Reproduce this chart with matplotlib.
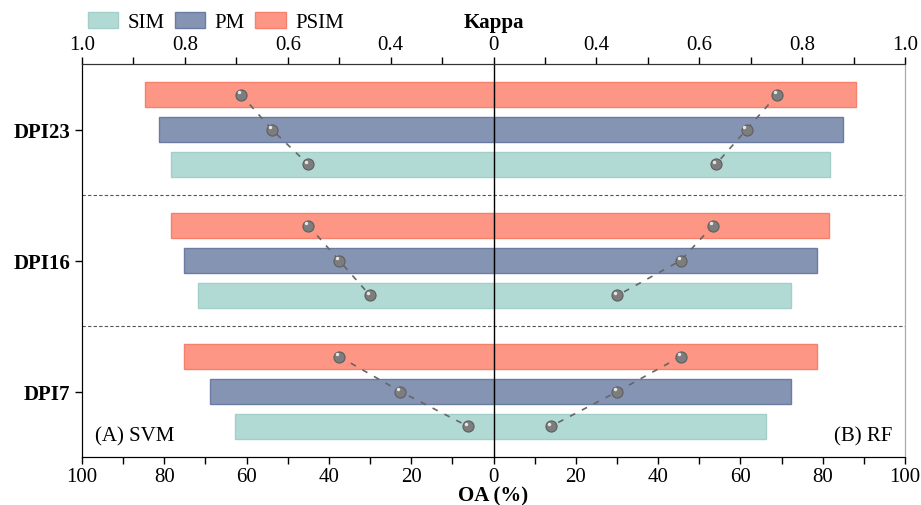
import numpy as np
import matplotlib.pyplot as plt
import matplotlib.transforms as mtransforms
from matplotlib.patches import Patch

plt.rcParams['font.family'] = ['Liberation Serif', 'DejaVu Serif']
plt.rcParams['font.size'] = 15

# Data
groups = ['DPI7', 'DPI16', 'DPI23']
methods = ['SIM', 'PM', 'PSIM']

# OA (%) per group (DPI7, DPI16, DPI23)
oa_svm = {'SIM': [62.7, 71.9, 78.4],
          'PM': [69.0, 75.1, 81.4],
          'PSIM': [75.3, 78.3, 84.6]}
oa_rf = {'SIM': [66.1, 72.4, 81.8],
         'PM': [72.4, 78.5, 84.9],
         'PSIM': [78.6, 81.6, 88.0]}

# Kappa per group (DPI7, DPI16, DPI23)
kappa_svm = {'SIM': [0.249, 0.440, 0.560],
             'PM': [0.381, 0.500, 0.631],
             'PSIM': [0.500, 0.560, 0.691]}
kappa_rf = {'SIM': [0.311, 0.441, 0.632],
            'PM': [0.441, 0.564, 0.692],
            'PSIM': [0.564, 0.627, 0.752]}

colors = {'SIM': '#b2dad4', 'PM': '#8694b4', 'PSIM': '#fd9684'}
edges = {'SIM': '#a2d0c9', 'PM': '#6b7ca3', 'PSIM': '#f7806d'}
offsets = {'SIM': -0.267, 'PM': 0.0, 'PSIM': 0.267}
bar_h = 0.19
kappa_base = 0.2  # centre of the Kappa axis is labelled 0

fig = plt.figure(figsize=(9.21, 5.06), dpi=100)
ax = fig.add_axes([82 / 921, 1 - 458 / 506, (905 - 82) / 921, (458 - 65) / 506])

y = np.arange(len(groups))

# bars
for m in methods:
    ax.barh(y + offsets[m], -np.array(oa_svm[m]), height=bar_h, color=colors[m],
            edgecolor=edges[m], linewidth=1, zorder=2)
    ax.barh(y + offsets[m], oa_rf[m], height=bar_h, color=colors[m],
            edgecolor=edges[m], linewidth=1, zorder=2)

ax.axvline(0, color='black', lw=1, zorder=3)
for sep in [0.5, 1.5]:
    ax.axhline(sep, color='#555555', lw=0.8, ls=(0, (3, 2)), zorder=1)

ax.set_xlim(-100, 100)
ax.set_ylim(-0.5, 2.5)
ax.set_xticks(np.arange(-100, 101, 20))
ax.set_xticks(np.arange(-100, 101, 10), minor=True)
ax.set_xticklabels([str(abs(v)) for v in range(-100, 101, 20)])
ax.set_yticks(y)
ax.set_yticklabels(groups, fontweight='bold')
ax.tick_params(axis='both', which='both', direction='out', length=5, width=1)
ax.tick_params(axis='x', which='major', pad=2)
ax.set_xlabel('OA (%)', fontweight='bold', labelpad=0)
ax.spines['right'].set_color('#a8a8a8')
ax.spines['top'].set_color('#333333')

# Kappa axis on top
ax2 = ax.twiny()
ax2.set_xlim(-0.8, 0.8)
ax2.set_ylim(-0.5, 2.5)
kt = [-0.8, -0.6, -0.4, -0.2, 0.0, 0.2, 0.4, 0.6, 0.8]
ax2.set_xticks(kt)
ax2.set_xticklabels(['0' if v == 0 else '%.1f' % (abs(v) + kappa_base) for v in kt])
ax2.set_xticks(np.arange(-0.8, 0.81, 0.1), minor=True)
ax2.tick_params(axis='x', which='both', direction='out', length=5, width=1, pad=2)
ax2.set_xlabel('Kappa', fontweight='bold', labelpad=6)
ax2.spines['right'].set_color('#a8a8a8')
ax2.spines['top'].set_color('#333333')

hl = mtransforms.offset_copy(ax2.transData, fig=fig, x=-1.5, y=1.5, units='points')
for side, kd in [(-1, kappa_svm), (1, kappa_rf)]:
    for gi in range(len(groups)):
        ys = [gi + offsets[m] for m in ['PSIM', 'PM', 'SIM']]
        xs = [side * (kd[m][gi] - kappa_base) for m in ['PSIM', 'PM', 'SIM']]
        ax2.plot(xs, ys, color='#666666', lw=1.2, ls=(0, (3.5, 4.5)), zorder=4)
        ax2.plot(xs, ys, ls='none', marker='o', ms=8, mfc='#7d7d7d',
                 mec='#5e5e5e', mew=0.8, zorder=5)
        ax2.plot(xs, ys, ls='none', marker='o', ms=2.5, mfc='#e6e6e6',
                 mec='none', zorder=6, transform=hl)

ax.text(0.016, 0.055, '(A) SVM', transform=ax.transAxes, ha='left', va='center', fontsize=15)
ax.text(0.985, 0.055, '(B) RF', transform=ax.transAxes, ha='right', va='center', fontsize=15)

handles = [Patch(facecolor=colors[m], edgecolor=edges[m], label=m) for m in methods]
fig.legend(handles=handles, loc='upper left', bbox_to_anchor=(88 / 921, 1 - 13 / 506),
           ncol=3, frameon=False, borderpad=0, borderaxespad=0, handlelength=1.45,
           handleheight=0.8, handletextpad=0.45, columnspacing=0.5, fontsize=15)

fig.savefig('out.png', dpi=100)
